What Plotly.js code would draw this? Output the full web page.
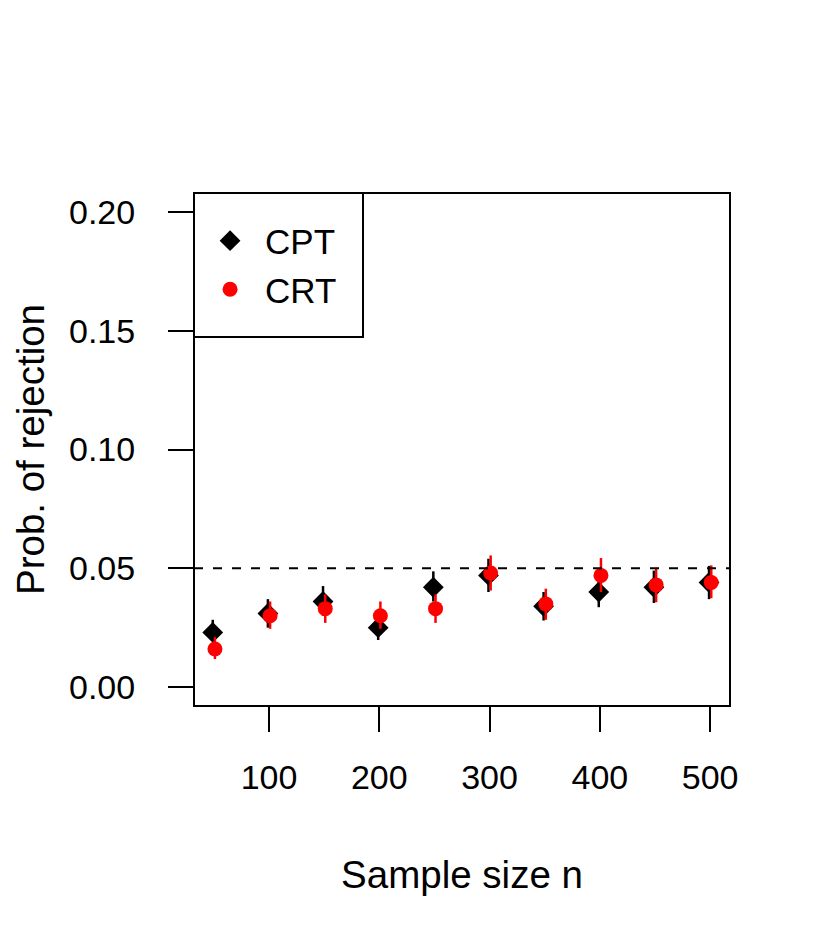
<!DOCTYPE html>
<html>
<head>
<meta charset="utf-8">
<script src="https://cdn.plot.ly/plotly-3.0.1.min.js"></script>
<style>
  html, body { margin: 0; padding: 0; background: #fff; }
  #chart { width: 830px; height: 949px; }
</style>
</head>
<body>
<div id="chart"></div>
<script>
// Rejection probability vs sample size, CPT vs CRT

const sampleSizes = [50, 100, 150, 200, 250, 300, 350, 400, 450, 500];

const cptProb = [0.023, 0.031, 0.036, 0.025, 0.042, 0.047, 0.034, 0.040, 0.042, 0.044];
const cptLower = [0.020, 0.025, 0.030, 0.0198, 0.036, 0.040, 0.028, 0.0336, 0.0354, 0.037];
const cptUpper = [0.0283, 0.037, 0.0425, 0.031, 0.0487, 0.054, 0.040, 0.0465, 0.049, 0.051];

const crtProb = [0.016, 0.030, 0.033, 0.030, 0.033, 0.048, 0.035, 0.047, 0.043, 0.044];
const crtLower = [0.0118, 0.0245, 0.027, 0.0245, 0.027, 0.0406, 0.0283, 0.040, 0.0357, 0.0374];
const crtUpper = [0.021, 0.036, 0.039, 0.036, 0.039, 0.0554, 0.0414, 0.0543, 0.0501, 0.0512];

const xTicks = [100, 200, 300, 400, 500];
const yTicks = [0, 0.05, 0.10, 0.15, 0.20];
const yTickLabels = ['0.00', '0.05', '0.10', '0.15', '0.20'];
const nominalLevel = 0.05;

const font = 'Liberation Sans, Arial, Helvetica, sans-serif';
const fontSize = 34;
const titleSize = 38.5;

// small horizontal dodge so the two methods don't sit exactly on top of each other
const cptX = sampleSizes.map(n => n - 1);
const crtX = sampleSizes.map(n => n + 1);

const cptTrace = {
    x: cptX,
    y: cptProb,
    type: 'scatter',
    mode: 'markers',
    name: 'CPT',
    marker: { symbol: 'diamond', size: 16, color: '#000000' },
    error_y: {
        type: 'data',
        symmetric: false,
        array: cptUpper.map((u, i) => u - cptProb[i]),
        arrayminus: cptLower.map((l, i) => cptProb[i] - l),
        color: '#000000',
        thickness: 2.5,
        width: 0
    }
};

const crtTrace = {
    x: crtX,
    y: crtProb,
    type: 'scatter',
    mode: 'markers',
    name: 'CRT',
    marker: { symbol: 'circle', size: 15, color: '#ff0000' },
    error_y: {
        type: 'data',
        symmetric: false,
        array: crtUpper.map((u, i) => u - crtProb[i]),
        arrayminus: crtLower.map((l, i) => crtProb[i] - l),
        color: '#ff0000',
        thickness: 2.5,
        width: 0
    }
};

const shapes = [
    // plot box
    {
        type: 'rect', xref: 'paper', yref: 'paper',
        x0: 0, x1: 1, y0: 0, y1: 1,
        line: { color: '#000000', width: 2 }
    },
    // legend box
    {
        type: 'rect', xref: 'paper', yref: 'paper',
        x0: 0, x1: 0.3153, y0: 0.7193, y1: 1,
        line: { color: '#000000', width: 2 }
    },
    // nominal level
    {
        type: 'line', xref: 'paper', yref: 'y',
        x0: 0, x1: 1, y0: nominalLevel, y1: nominalLevel,
        line: { color: '#000000', width: 2, dash: '9px,10px' }
    }
];

const layout = {
    width: 830,
    height: 949,
    paper_bgcolor: '#ffffff',
    plot_bgcolor: '#ffffff',
    showlegend: true,
    legend: {
        x: 0.002,
        y: 0.964,
        xanchor: 'left',
        yanchor: 'top',
        bgcolor: 'rgba(0,0,0,0)',
        borderwidth: 0,
        font: { family: font, size: 35, color: '#000000' },
        itemsizing: 'trace',
        itemwidth: 60,
        tracegroupgap: 0
    },
    margin: { t: 193, r: 100, b: 243, l: 194 },
    font: { family: font, color: '#000000' },
    xaxis: {
        range: [32, 518],
        tickvals: xTicks,
        ticktext: xTicks.map(String),
        ticks: 'outside',
        ticklen: 25,
        tickwidth: 2,
        tickcolor: '#000000',
        ticklabelstandoff: 16,
        tickfont: { family: font, size: fontSize, color: '#000000' },
        showgrid: false,
        zeroline: false,
        showline: false,
        title: {
            text: 'Sample size n',
            font: { family: font, size: titleSize, color: '#000000' },
            standoff: 66
        }
    },
    yaxis: {
        range: [-0.008, 0.208],
        tickvals: yTicks,
        ticktext: yTickLabels,
        ticks: 'outside',
        ticklen: 25,
        tickwidth: 2,
        tickcolor: '#000000',
        ticklabelstandoff: 26,
        tickfont: { family: font, size: fontSize, color: '#000000' },
        showgrid: false,
        zeroline: false,
        showline: false,
        title: {
            text: 'Prob. of rejection',
            font: { family: font, size: titleSize, color: '#000000' },
            standoff: 12
        }
    },
    shapes: shapes
};

Plotly.newPlot('chart', [cptTrace, crtTrace], layout, { displayModeBar: false, staticPlot: true });
</script>
</body>
</html>
